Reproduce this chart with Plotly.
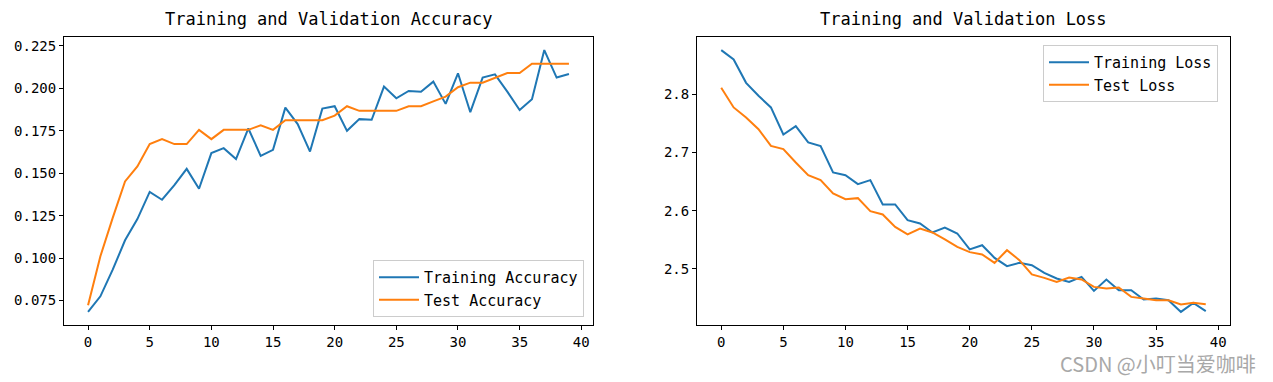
import plotly.graph_objects as go

epochs = list(range(40))

train_acc = [0.0683, 0.0775, 0.0932, 0.1105, 0.1230, 0.1390, 0.1344, 0.1430, 0.1526, 0.1409,
             0.1619, 0.1648, 0.1584, 0.1764, 0.1603, 0.1638, 0.1887, 0.1790, 0.1628, 0.1881,
             0.1895, 0.1750, 0.1819, 0.1815, 0.2011, 0.1942, 0.1985, 0.1980, 0.2040, 0.1909,
             0.2089, 0.1860, 0.2064, 0.2083, 0.1981, 0.1873, 0.1936, 0.2226, 0.2064, 0.2085]
test_acc = [0.0722, 0.1011, 0.1237, 0.1452, 0.1540, 0.1672, 0.1701, 0.1672, 0.1672, 0.1756,
            0.1701, 0.1756, 0.1756, 0.1756, 0.1783, 0.1756, 0.1813, 0.1813, 0.1813, 0.1813,
            0.1840, 0.1895, 0.1868, 0.1868, 0.1868, 0.1868, 0.1895, 0.1895, 0.1924, 0.1952,
            0.2007, 0.2034, 0.2034, 0.2064, 0.2091, 0.2091, 0.2146, 0.2146, 0.2146, 0.2146]
train_loss = [2.8758, 2.8598, 2.8196, 2.7973, 2.7773, 2.7309, 2.7452, 2.7172, 2.7108, 2.6656,
              2.6610, 2.6455, 2.6524, 2.6107, 2.6107, 2.5837, 2.5780, 2.5625, 2.5711, 2.5608,
              2.5335, 2.5407, 2.5189, 2.5046, 2.5103, 2.5064, 2.4931, 2.4835, 2.4777, 2.4863,
              2.4622, 2.4817, 2.4634, 2.4634, 2.4474, 2.4491, 2.4462, 2.4261, 2.4416, 2.4273]
test_loss = [2.8110, 2.7773, 2.7601, 2.7400, 2.7113, 2.7057, 2.6828, 2.6610, 2.6524, 2.6296,
             2.6198, 2.6215, 2.5991, 2.5935, 2.5722, 2.5591, 2.5694, 2.5625, 2.5505, 2.5378,
             2.5288, 2.5247, 2.5103, 2.5321, 2.5150, 2.4904, 2.4846, 2.4777, 2.4852, 2.4818,
             2.4691, 2.4663, 2.4680, 2.4519, 2.4491, 2.4462, 2.4462, 2.4388, 2.4416, 2.4393]

x_ticks = [0, 5, 10, 15, 20, 25, 30, 35, 40]
acc_ticks = [0.075, 0.100, 0.125, 0.150, 0.175, 0.200, 0.225]
loss_ticks = [2.5, 2.6, 2.7, 2.8]

BLUE = "#1f77b4"
ORANGE = "#ff7f0e"
MONO = "DejaVu Sans Mono"

OFF = 8  # page body margin
W, H = 1273 - OFF, 382 - OFF


def px(x):
    return (x - OFF) / W


def py(y):
    return 1 - (y - OFF) / H


fig = go.Figure()

fig.add_trace(go.Scatter(x=epochs, y=train_acc, mode="lines", name="Training Accuracy",
                         line=dict(color=BLUE, width=2), xaxis="x", yaxis="y", legend="legend"))
fig.add_trace(go.Scatter(x=epochs, y=test_acc, mode="lines", name="Test Accuracy",
                         line=dict(color=ORANGE, width=2), xaxis="x", yaxis="y", legend="legend"))
fig.add_trace(go.Scatter(x=epochs, y=train_loss, mode="lines", name="Training Loss",
                         line=dict(color=BLUE, width=2), xaxis="x2", yaxis="y2", legend="legend2"))
fig.add_trace(go.Scatter(x=epochs, y=test_loss, mode="lines", name="Test Loss",
                         line=dict(color=ORANGE, width=2), xaxis="x2", yaxis="y2", legend="legend2"))

axis_common = dict(showline=True, linecolor="black", linewidth=1, mirror=True,
                   ticks="outside", ticklen=4, tickcolor="black", showgrid=False,
                   zeroline=False, tickfont=dict(family=MONO, size=14, color="black"))

ydom = [py(325), py(37)]
legend_common = dict(bgcolor="rgba(255,255,255,0.8)", bordercolor="#cccccc", borderwidth=1,
                     itemwidth=40, font=dict(family=MONO, size=15, color="black"))
fig.update_layout(
    width=W, height=H,
    margin=dict(l=0, r=0, t=0, b=0),
    paper_bgcolor="white", plot_bgcolor="white",
    xaxis=dict(domain=[px(64), px(593)], range=[-1.95, 40.95], tickvals=x_ticks,
               anchor="y", **axis_common),
    yaxis=dict(domain=ydom, range=[0.0606, 0.2303], tickvals=acc_ticks,
               tickformat=".3f", anchor="x", **axis_common),
    xaxis2=dict(domain=[px(697), px(1230)], range=[-1.95, 40.95], tickvals=x_ticks,
                anchor="y2", **axis_common),
    yaxis2=dict(domain=ydom, range=[2.4036, 2.8983], tickvals=loss_ticks,
                tickformat=".1f", anchor="x2", **axis_common),
    legend=dict(x=px(584), y=py(317), xanchor="right", yanchor="bottom", **legend_common),
    legend2=dict(x=px(1218), y=py(45), xanchor="right", yanchor="top", **legend_common),
    annotations=[
        dict(text="Training and Validation Accuracy", x=px((64 + 593) / 2), y=py(19),
             xref="paper", yref="paper", xanchor="center", yanchor="middle", showarrow=False,
             font=dict(family=MONO, size=17, color="black")),
        dict(text="Training and Validation Loss", x=px((697 + 1230) / 2), y=py(19),
             xref="paper", yref="paper", xanchor="center", yanchor="middle", showarrow=False,
             font=dict(family=MONO, size=17, color="black")),
        dict(text="CSDN @小叮当爱咖啡", x=px(1258), y=py(363),
             xref="paper", yref="paper", xanchor="right", yanchor="middle", showarrow=False,
             font=dict(family="Noto Sans CJK SC", size=20, color="#a8a8a8")),
    ],
)

fig.write_html("out.html")
